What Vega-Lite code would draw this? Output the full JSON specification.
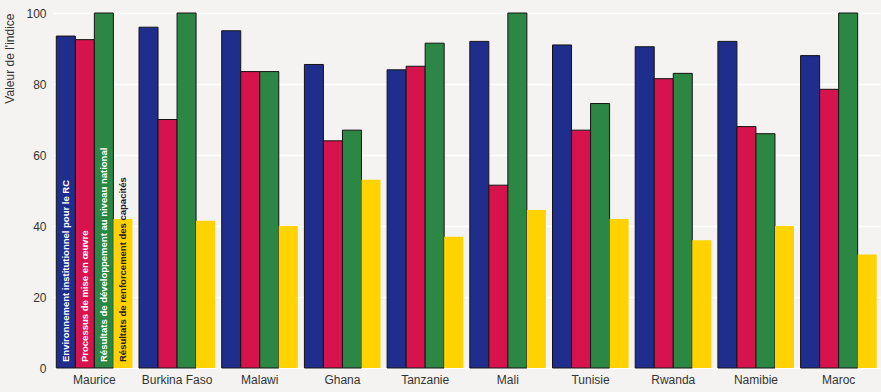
{
  "$schema": "https://vega.github.io/schema/vega-lite/v6.json",
  "autosize": "none",
  "width": 827,
  "height": 355,
  "padding": {"left": 53, "top": 13, "right": 1, "bottom": 24},
  "background": "#f4f3f1",
  "config": {
    "view": {"stroke": null},
    "font": "Liberation Sans Narrow, Liberation Sans, sans-serif"
  },
  "data": {
    "values": [
      {"pays": "Maurice", "serie": "Environnement institutionnel pour le RC", "valeur": 93.5},
      {"pays": "Maurice", "serie": "Processus de mise en œuvre", "valeur": 92.5},
      {"pays": "Maurice", "serie": "Résultats de développement au niveau national", "valeur": 100},
      {"pays": "Maurice", "serie": "Résultats de renforcement des capacités", "valeur": 42},
      {"pays": "Burkina Faso", "serie": "Environnement institutionnel pour le RC", "valeur": 96},
      {"pays": "Burkina Faso", "serie": "Processus de mise en œuvre", "valeur": 70},
      {"pays": "Burkina Faso", "serie": "Résultats de développement au niveau national", "valeur": 100},
      {"pays": "Burkina Faso", "serie": "Résultats de renforcement des capacités", "valeur": 41.5},
      {"pays": "Malawi", "serie": "Environnement institutionnel pour le RC", "valeur": 95},
      {"pays": "Malawi", "serie": "Processus de mise en œuvre", "valeur": 83.5},
      {"pays": "Malawi", "serie": "Résultats de développement au niveau national", "valeur": 83.5},
      {"pays": "Malawi", "serie": "Résultats de renforcement des capacités", "valeur": 40},
      {"pays": "Ghana", "serie": "Environnement institutionnel pour le RC", "valeur": 85.5},
      {"pays": "Ghana", "serie": "Processus de mise en œuvre", "valeur": 64},
      {"pays": "Ghana", "serie": "Résultats de développement au niveau national", "valeur": 67},
      {"pays": "Ghana", "serie": "Résultats de renforcement des capacités", "valeur": 53},
      {"pays": "Tanzanie", "serie": "Environnement institutionnel pour le RC", "valeur": 84},
      {"pays": "Tanzanie", "serie": "Processus de mise en œuvre", "valeur": 85},
      {"pays": "Tanzanie", "serie": "Résultats de développement au niveau national", "valeur": 91.5},
      {"pays": "Tanzanie", "serie": "Résultats de renforcement des capacités", "valeur": 37},
      {"pays": "Mali", "serie": "Environnement institutionnel pour le RC", "valeur": 92},
      {"pays": "Mali", "serie": "Processus de mise en œuvre", "valeur": 51.5},
      {"pays": "Mali", "serie": "Résultats de développement au niveau national", "valeur": 100},
      {"pays": "Mali", "serie": "Résultats de renforcement des capacités", "valeur": 44.5},
      {"pays": "Tunisie", "serie": "Environnement institutionnel pour le RC", "valeur": 91},
      {"pays": "Tunisie", "serie": "Processus de mise en œuvre", "valeur": 67},
      {"pays": "Tunisie", "serie": "Résultats de développement au niveau national", "valeur": 74.5},
      {"pays": "Tunisie", "serie": "Résultats de renforcement des capacités", "valeur": 42},
      {"pays": "Rwanda", "serie": "Environnement institutionnel pour le RC", "valeur": 90.5},
      {"pays": "Rwanda", "serie": "Processus de mise en œuvre", "valeur": 81.5},
      {"pays": "Rwanda", "serie": "Résultats de développement au niveau national", "valeur": 83},
      {"pays": "Rwanda", "serie": "Résultats de renforcement des capacités", "valeur": 36},
      {"pays": "Namibie", "serie": "Environnement institutionnel pour le RC", "valeur": 92},
      {"pays": "Namibie", "serie": "Processus de mise en œuvre", "valeur": 68},
      {"pays": "Namibie", "serie": "Résultats de développement au niveau national", "valeur": 66},
      {"pays": "Namibie", "serie": "Résultats de renforcement des capacités", "valeur": 40},
      {"pays": "Maroc", "serie": "Environnement institutionnel pour le RC", "valeur": 88},
      {"pays": "Maroc", "serie": "Processus de mise en œuvre", "valeur": 78.5},
      {"pays": "Maroc", "serie": "Résultats de développement au niveau national", "valeur": 100},
      {"pays": "Maroc", "serie": "Résultats de renforcement des capacités", "valeur": 32}
    ]
  },
  "encoding": {
    "x": {
      "field": "pays",
      "type": "nominal",
      "sort": null,
      "scale": {"paddingInner": 0.08, "paddingOuter": 0.04},
      "axis": {
        "title": null,
        "labelAngle": 0,
        "domain": false,
        "ticks": false,
        "labelFontSize": 12,
        "labelColor": "#333333",
        "labelPadding": 6
      }
    },
    "xOffset": {
      "field": "serie",
      "type": "nominal",
      "sort": null,
      "scale": {"paddingInner": 0, "paddingOuter": 0}
    }
  },
  "layer": [
    {
      "mark": {"type": "bar", "strokeWidth": 1, "stroke": "#141414"},
      "encoding": {
        "y": {
          "field": "valeur",
          "type": "quantitative",
          "scale": {"domain": [0, 100], "nice": false},
          "axis": {
            "title": "Valeur de l'indice",
            "titleFontSize": 12,
            "titleFontWeight": "normal",
            "titleColor": "#333333",
            "titleAnchor": "end",
            "titlePadding": 9,
            "values": [0, 20, 40, 60, 80, 100],
            "domain": false,
            "ticks": false,
            "labelFontSize": 12,
            "labelColor": "#333333",
            "labelPadding": 7,
            "gridColor": "#ffffff",
            "gridWidth": 1.5
          }
        },
        "color": {
          "field": "serie",
          "type": "nominal",
          "sort": null,
          "scale": {
            "domain": [
              "Environnement institutionnel pour le RC",
              "Processus de mise en œuvre",
              "Résultats de développement au niveau national",
              "Résultats de renforcement des capacités"
            ],
            "range": ["#1f2d8c", "#d6134d", "#2d8744", "#ffd200"]
          },
          "legend": null
        },
        "strokeWidth": {
          "condition": {"test": "datum.serie === 'Résultats de renforcement des capacités'", "value": 0},
          "value": 1
        }
      }
    },
    {
      "transform": [{"filter": "datum.pays === 'Maurice'"}],
      "mark": {
        "type": "text",
        "angle": 270,
        "align": "left",
        "baseline": "middle",
        "dx": 6,
        "fontSize": 9.5,
        "fontWeight": "bold"
      },
      "encoding": {
        "y": {"datum": 0, "type": "quantitative"},
        "text": {"field": "serie"},
        "color": {
          "condition": {"test": "datum.serie === 'Résultats de renforcement des capacités'", "value": "#222222"},
          "value": "#ffffff"
        }
      }
    }
  ]
}
